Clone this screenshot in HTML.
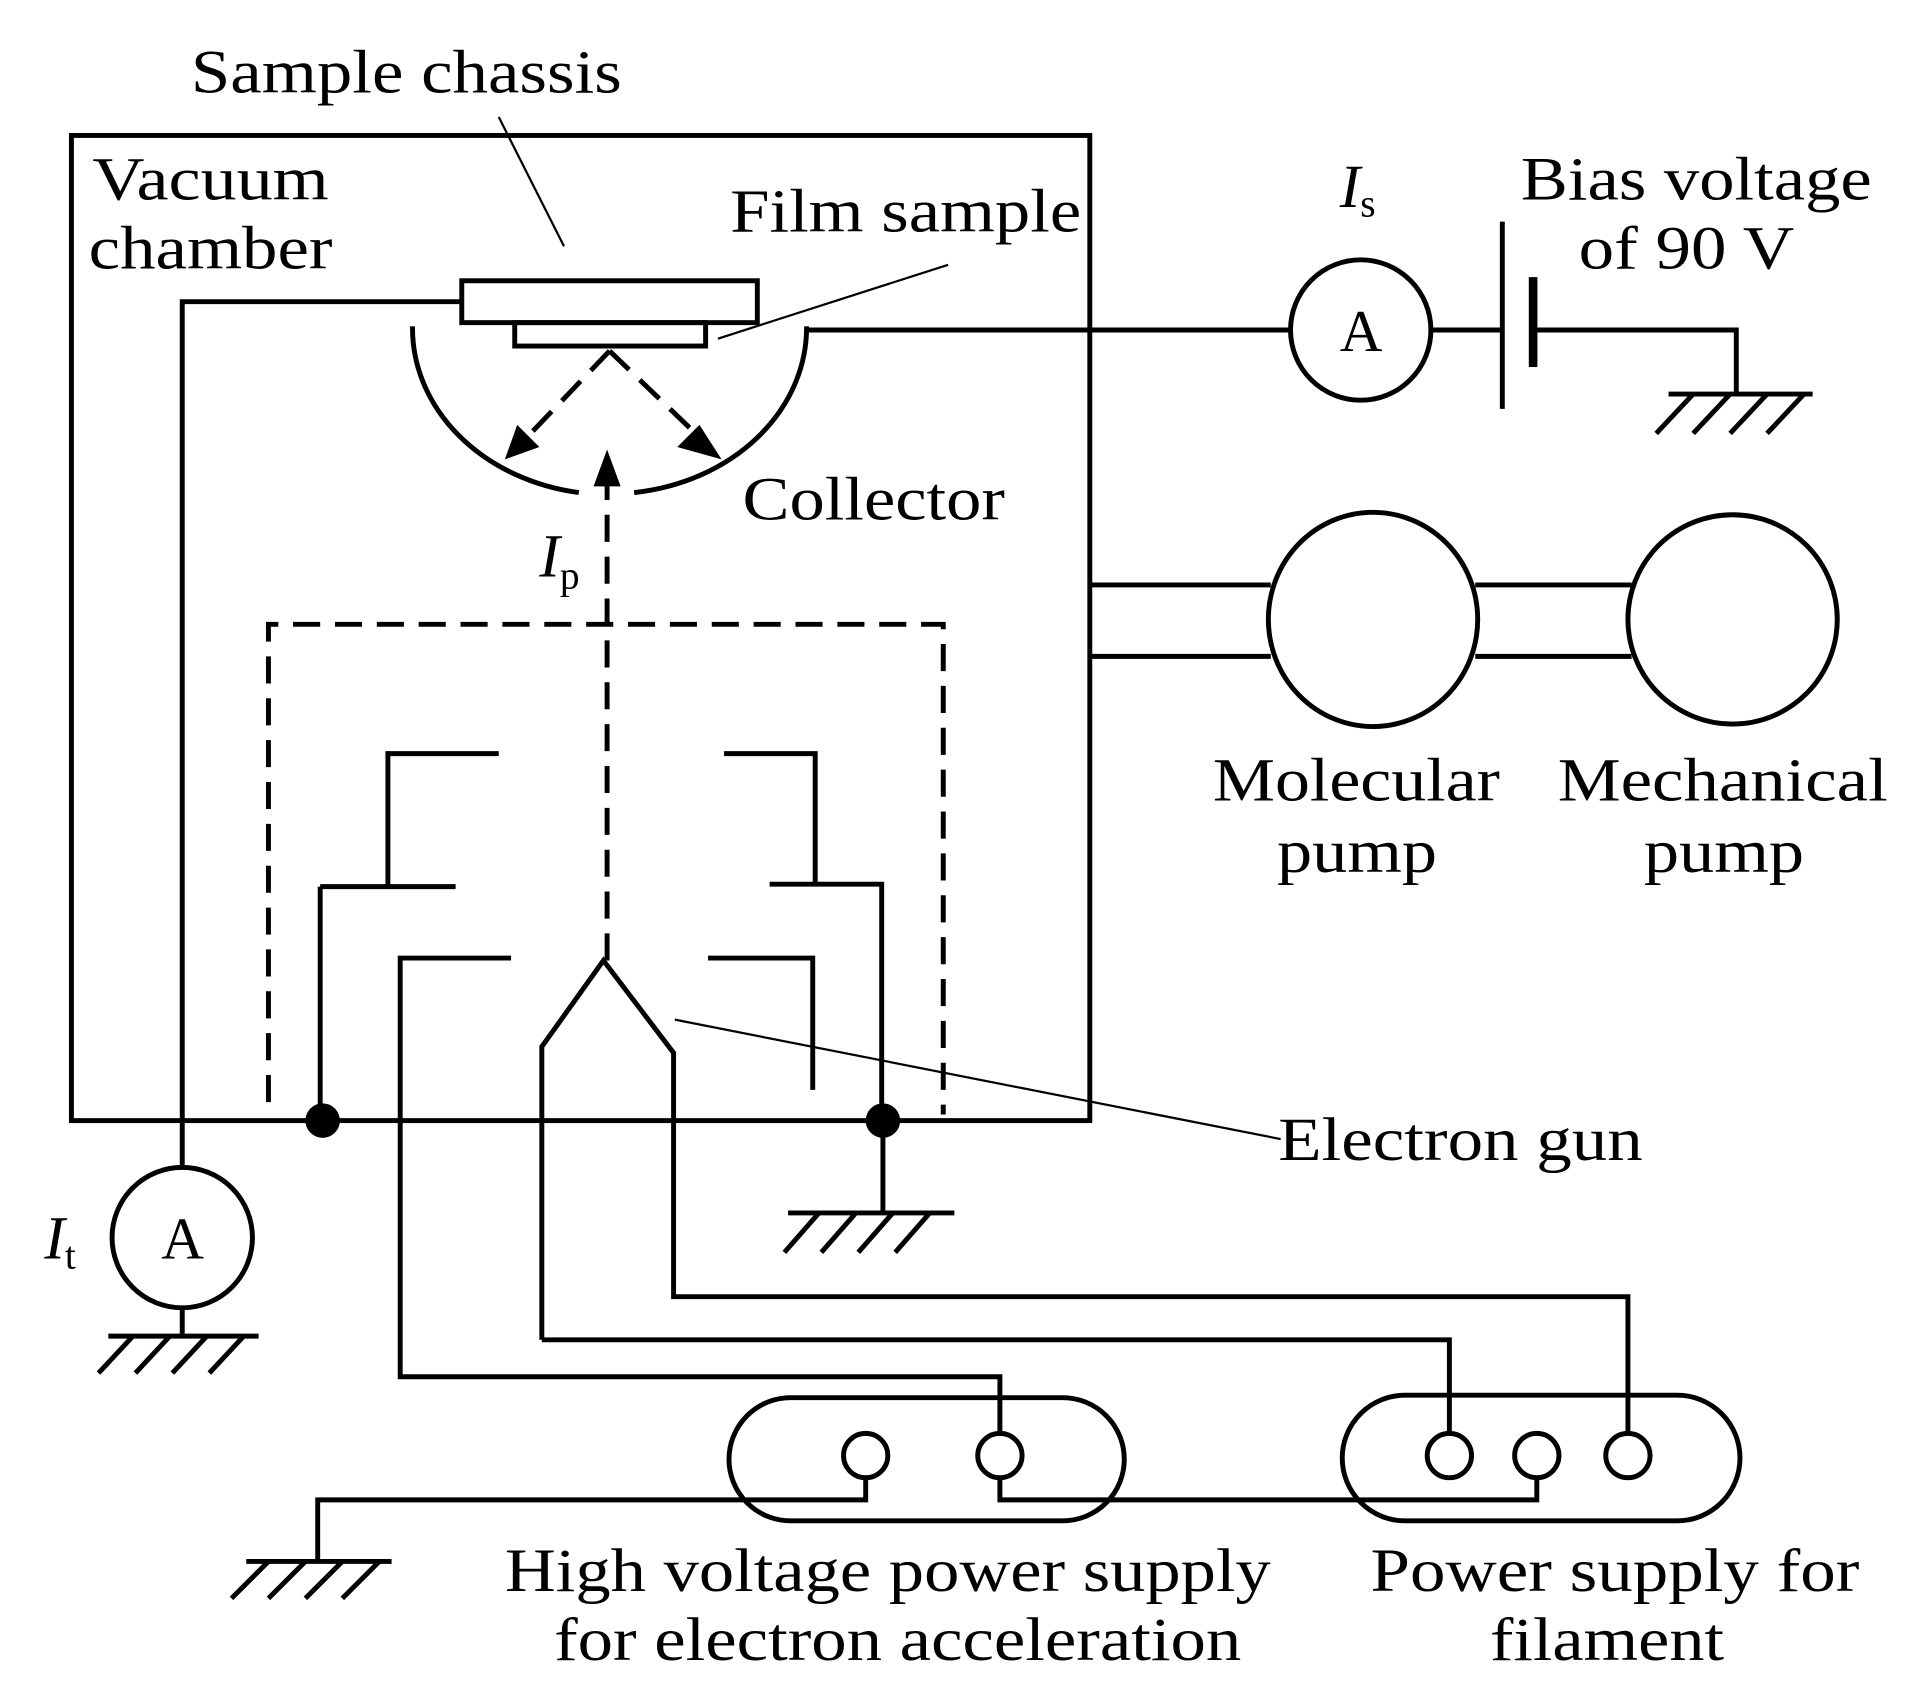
<!DOCTYPE html>
<html><head><meta charset="utf-8"><style>html,body{margin:0;padding:0;background:#fff}svg{display:block}</style></head>
<body>
<svg width="1921" height="1708" viewBox="0 0 1560 1387" preserveAspectRatio="none" xmlns="http://www.w3.org/2000/svg">
<g fill="none" stroke="#000" stroke-width="4">
<rect x="58" y="110" width="827" height="800"/>
<rect x="375" y="228" width="240" height="34"/>
<rect x="418" y="262" width="155" height="19"/>
<path d="M375 245 H148 V948"/>
<circle cx="148" cy="1005" r="57"/>
<path d="M148 1062 V1085"/>
<path d="M335 265 A160 135 0 0 0 470 400"/>
<path d="M515 400 A160 135 0 0 0 655 265"/>
<path d="M655 268 H1048"/>
<circle cx="1105" cy="268" r="57"/>
<path d="M1162 268 H1220 M1245 268 H1410 V320"/>
<path d="M1220 180 V332"/>
<path d="M1245 225 V298" stroke-width="7"/>
<path d="M885 475 H1032 M885 533 H1032 M1198 475 H1325 M1198 533 H1325"/>
<ellipse cx="1115" cy="503" rx="85" ry="87"/>
<ellipse cx="1407" cy="503" rx="85" ry="85"/>
<path d="M405 612 H315 V720 M260 720 H370 M260 720 V910"/>
<path d="M588 612 H662 V718 M625 718 H716 V910"/>
<path d="M415 778 H325 V1118 H812 V1165"/>
<path d="M575 778 H660 V885"/>
<path d="M440 1088 V850 L490 780 L547 855 V1053 H1322 V1165"/>
<path d="M440 1088 H1177 V1165"/>
<path d="M717 910 V985"/>
<rect x="592" y="1135" width="321" height="100" rx="50"/>
<rect x="1090" y="1133" width="323" height="102" rx="51"/>
<circle cx="703" cy="1182" r="18"/>
<circle cx="812" cy="1182" r="18"/>
<circle cx="1177" cy="1182" r="18"/>
<circle cx="1248" cy="1182" r="18"/>
<circle cx="1322" cy="1182" r="18"/>
<path d="M703 1200 V1218 H258 V1268"/>
<path d="M812 1200 V1218 H1248 V1200"/>
<g stroke-dasharray="22 12">
<path d="M218 895 V507 H766 V905"/>
<path d="M493 780 V385"/>
<path d="M495 285 L428 355 M495 285 L568 355"/>
</g>
<path d="M88 1085 H210 M108 1085 L80 1115 M138 1085 L110 1115 M168 1085 L140 1115 M198 1085 L170 1115"/>
<path d="M1355 320 H1472 M1375 320 L1345 352 M1405 320 L1375 352 M1435 320 L1405 352 M1465 320 L1435 352"/>
<path d="M640 985 H775 M665 985 L637 1017 M695 985 L667 1017 M725 985 L697 1017 M755 985 L727 1017"/>
<path d="M200 1268 H318 M218 1268 L188 1298 M248 1268 L218 1298 M278 1268 L248 1298 M308 1268 L278 1298"/>
</g>
<g stroke="#000" stroke-width="1.8" fill="none">
<path d="M405 95 L458 200"/>
<path d="M583 275 L770 215"/>
<path d="M548 828 L1040 925"/>
</g>
<g fill="#000">
<polygon points="493,365 482,395 504,395"/>
<polygon points="410,373 420,345 438,363"/>
<polygon points="586,373 568,345 550,363"/>
<circle cx="262" cy="910" r="14"/>
<circle cx="717" cy="910" r="14"/>
</g>
<g font-family="Liberation Serif, serif" font-size="50" fill="#000">
<text x="155" y="75" textLength="350" lengthAdjust="spacingAndGlyphs">Sample chassis</text>
<text x="75" y="162" textLength="192" lengthAdjust="spacingAndGlyphs">Vacuum</text>
<text x="72" y="218" textLength="198" lengthAdjust="spacingAndGlyphs">chamber</text>
<text x="593" y="188" textLength="285" lengthAdjust="spacingAndGlyphs">Film sample</text>
<text x="603" y="422" textLength="213" lengthAdjust="spacingAndGlyphs">Collector</text>
<text x="1235" y="162" textLength="285" lengthAdjust="spacingAndGlyphs">Bias voltage</text>
<text x="1282" y="218" textLength="175" lengthAdjust="spacingAndGlyphs">of 90 V</text>
<text x="985" y="650" textLength="233" lengthAdjust="spacingAndGlyphs">Molecular</text>
<text x="1037" y="708" textLength="130" lengthAdjust="spacingAndGlyphs">pump</text>
<text x="1265" y="650" textLength="268" lengthAdjust="spacingAndGlyphs">Mechanical</text>
<text x="1335" y="708" textLength="130" lengthAdjust="spacingAndGlyphs">pump</text>
<text x="1038" y="942" textLength="296" lengthAdjust="spacingAndGlyphs">Electron gun</text>
<text x="410" y="1292" textLength="622" lengthAdjust="spacingAndGlyphs">High voltage power supply</text>
<text x="450" y="1348" textLength="558" lengthAdjust="spacingAndGlyphs">for electron acceleration</text>
<text x="1113" y="1292" textLength="397" lengthAdjust="spacingAndGlyphs">Power supply for</text>
<text x="1210" y="1348" textLength="190" lengthAdjust="spacingAndGlyphs">filament</text>
<text x="1088" y="285" font-size="48">A</text>
<text x="131" y="1022" font-size="48">A</text>
<text x="1088" y="168" font-style="italic">I<tspan font-size="32" font-style="normal" dy="8">s</tspan></text>
<text x="438" y="468" font-style="italic">I<tspan font-size="32" font-style="normal" dy="10">p</tspan></text>
<text x="36" y="1022" font-style="italic">I<tspan font-size="32" font-style="normal" dy="8">t</tspan></text>
</g>
</svg>
</body></html>
